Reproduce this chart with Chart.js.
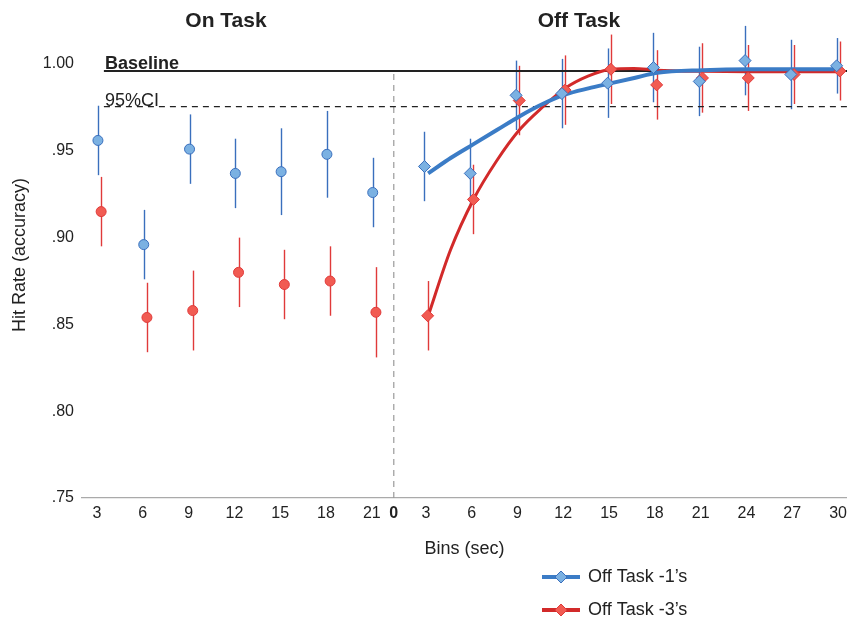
<!DOCTYPE html>
<html>
<head>
<meta charset="utf-8">
<script src="https://cdn.jsdelivr.net/npm/chart.js@4.4.1/dist/chart.umd.min.js"></script>
<style>
  html, body { margin: 0; padding: 0; background: #fff; }
  #wrap { width: 847px; height: 621px; }
</style>
</head>
<body>
<div id="wrap"><canvas id="chart" width="847" height="621"></canvas></div>
<script>
"use strict";

// ── data ─────────────────────────────────────────────────────────
const ON_BINS      = [3, 6, 9, 12, 15, 18, 21];
const ON_BLUE      = [0.956, 0.896, 0.951, 0.937, 0.938, 0.948, 0.926];
const ON_BLUE_ERR  = [0.020, 0.020, 0.020, 0.020, 0.025, 0.025, 0.020];
const ON_RED       = [0.915, 0.854, 0.858, 0.880, 0.873, 0.875, 0.857];
const ON_RED_ERR   = [0.020, 0.020, 0.023, 0.020, 0.020, 0.020, 0.026];

const OFF_BINS     = [3, 6, 9, 12, 15, 18, 21, 24, 27, 30];
const OFF_BLUE     = [0.941, 0.937, 0.982, 0.983, 0.989, 0.998, 0.990, 1.002, 0.994, 0.999];
const OFF_BLUE_ERR = [0.020, 0.020, 0.020, 0.020, 0.020, 0.020, 0.020, 0.020, 0.020, 0.016];
const OFF_RED      = [0.855, 0.922, 0.979, 0.985, 0.997, 0.988, 0.992, 0.992, 0.994, 0.996];
const OFF_RED_ERR  = [0.020, 0.020, 0.020, 0.020, 0.020, 0.020, 0.020, 0.019, 0.017, 0.017];

// fitted curves
const FIT_BINS = [3, 4.5, 6, 7.5, 9, 10.5, 12, 13.5, 15, 16.5, 18, 21, 24, 27, 30];
const FIT_BLUE = [0.937, 0.946, 0.954, 0.962, 0.970, 0.977, 0.9825, 0.986, 0.989, 0.992, 0.995, 0.9965, 0.997, 0.997, 0.997];
const FIT_RED  = [0.854, 0.893, 0.922, 0.944, 0.962, 0.975, 0.986, 0.993, 0.997, 0.9975, 0.9965, 0.9958, 0.9956, 0.9956, 0.9956];

const BASELINE = 0.996;
const CI95     = 0.9755;
const Y_TICKS  = [0.75, 0.80, 0.85, 0.90, 0.95, 1.00];
const LEGEND   = ["Off Task -1\u2019s", "Off Task -3\u2019s"];

// ── layout of the broken x axis (position units = one 3 s bin) ──
const OFF_START = 7.18;
const DIV_POS   = 7.48;
const onPos  = b => b / 3;
const offPos = b => OFF_START + b / 3;

const C = {
  blueLine: "#3b7cc6", blueFill: "#7bb1e2", blueEdge: "#3a6fbd",
  redLine:  "#d22a2a", redFill:  "#f15b52", redEdge:  "#e03a3a",
  text: "#222", axis: "#aaaaaa", div: "#9a9a9a",
};
const FONT = "'Liberation Sans', Arial, Helvetica, sans-serif";

const pts = (bins, vals, pos, shift) => bins.map((b, i) => ({ x: pos(b) + shift, y: vals[i] }));

const tickList = [
  ...ON_BINS.map(b => ({ value: onPos(b), label: String(b) })),
  { value: DIV_POS, label: "0" },
  ...OFF_BINS.map(b => ({ value: offPos(b), label: String(b) })),
];

// keep the chart area where the figure has it (no label-driven padding)
function fixScale(size, key) {
  return s => {
    s[key] = size;
    s.paddingTop = s.paddingBottom = s.paddingLeft = s.paddingRight = 0;
  };
}

// error bars under the markers
const errorBars = {
  id: "errorBars",
  beforeDatasetsDraw(chart) {
    const { ctx, scales: { x, y } } = chart;
    ctx.save();
    chart.data.datasets.forEach(ds => {
      if (!ds.errors) return;
      ctx.strokeStyle = ds.errColor;
      ctx.lineWidth = 1.4;
      ds.data.forEach((p, i) => {
        const px = Math.round(x.getPixelForValue(p.x)) + 0.5;
        ctx.beginPath();
        ctx.moveTo(px, y.getPixelForValue(p.y + ds.errors[i]));
        ctx.lineTo(px, y.getPixelForValue(p.y - ds.errors[i]));
        ctx.stroke();
      });
    });
    ctx.restore();
  },
};

// headings, reference-line labels and legend
const annotations = {
  id: "annotations",
  afterDraw(chart) {
    const { ctx, scales: { y } } = chart;
    ctx.save();
    ctx.fillStyle = C.text;
    ctx.textAlign = "center";
    ctx.textBaseline = "middle";
    ctx.font = "bold 21px " + FONT;
    ctx.fillText("On Task", 226, 21);
    ctx.fillText("Off Task", 579, 21);

    ctx.textAlign = "left";
    ctx.textBaseline = "alphabetic";
    ctx.font = "bold 18px " + FONT;
    ctx.fillText("Baseline", 105, y.getPixelForValue(BASELINE) - 2);
    ctx.font = "18px " + FONT;
    ctx.fillText("95%CI", 105, y.getPixelForValue(CI95) - 1);

    [[C.blueLine, C.blueFill, C.blueEdge], [C.redLine, C.redFill, C.redEdge]].forEach((c, i) => {
      const ly = 577 + i * 33;
      ctx.strokeStyle = c[0];
      ctx.lineWidth = 4;
      ctx.beginPath(); ctx.moveTo(542, ly); ctx.lineTo(580, ly); ctx.stroke();
      ctx.fillStyle = c[1]; ctx.strokeStyle = c[2]; ctx.lineWidth = 1;
      ctx.beginPath();
      ctx.moveTo(561, ly - 6); ctx.lineTo(567, ly); ctx.lineTo(561, ly + 6); ctx.lineTo(555, ly);
      ctx.closePath(); ctx.fill(); ctx.stroke();
      ctx.fillStyle = C.text;
      ctx.font = "18px " + FONT;
      ctx.textBaseline = "middle";
      ctx.fillText(LEGEND[i], 588, ly);
    });
    ctx.restore();
  },
};

const markerSet = (data, fill, edge, style, r, errs) => ({
  data, errors: errs, errColor: edge,
  showLine: false, pointStyle: style, pointRadius: r, pointHoverRadius: r,
  pointBackgroundColor: fill, pointBorderColor: edge, pointBorderWidth: 1,
});
const lineSet = (data, color, width, extra) => Object.assign({
  data, showLine: true, borderColor: color, borderWidth: width, pointRadius: 0,
  pointHoverRadius: 0, fill: false,
}, extra || {});

new Chart(document.getElementById("chart"), {
  type: "scatter",
  data: {
    datasets: [
      markerSet(pts(OFF_BINS, OFF_BLUE, offPos, -0.03), C.blueFill, C.blueEdge, "rectRot", 6, OFF_BLUE_ERR),
      markerSet(pts(OFF_BINS, OFF_RED, offPos, 0.04), C.redFill, C.redEdge, "rectRot", 6, OFF_RED_ERR),
      markerSet(pts(ON_BINS, ON_BLUE, onPos, 0.02), C.blueFill, C.blueEdge, "circle", 5, ON_BLUE_ERR),
      markerSet(pts(ON_BINS, ON_RED, onPos, 0.09), C.redFill, C.redEdge, "circle", 5, ON_RED_ERR),
      lineSet(pts(FIT_BINS, FIT_BLUE, offPos, 0.05), C.blueLine, 4, { cubicInterpolationMode: "monotone" }),
      lineSet(pts(FIT_BINS, FIT_RED, offPos, 0.04), C.redLine, 3, { cubicInterpolationMode: "monotone" }),
      lineSet([{ x: 1.15, y: BASELINE }, { x: 17.4, y: BASELINE }], "#222", 2),
      lineSet([{ x: 1.15, y: CI95 }, { x: 17.4, y: CI95 }], "#222", 1.2, { borderDash: [6, 5] }),
      lineSet([{ x: DIV_POS, y: 0.75 }, { x: DIV_POS, y: 0.995 }], C.div, 1.2, { borderDash: [6, 5] }),
    ],
  },
  options: {
    responsive: false,
    animation: false,
    events: [],
    layout: { autoPadding: false, padding: { top: 12, bottom: 53, left: 0, right: 0 } },
    plugins: { legend: { display: false }, tooltip: { enabled: false } },
    scales: {
      x: {
        type: "linear", min: 0.672, max: 17.376,
        grid: { display: false, drawTicks: false },
        border: { display: true, color: C.axis, width: 1.3 },
        afterBuildTicks: s => { s.ticks = tickList.map(t => ({ value: t.value })); },
        afterFit: fixScale(70, "height"),
        ticks: {
          padding: 6, color: C.text, maxRotation: 0, autoSkip: false,
          font: c => (c.tick && c.tick.value === DIV_POS)
            ? { family: FONT, size: 16, weight: "bold" } : { family: FONT, size: 16 },
          callback: v => { const t = tickList.find(t => Math.abs(t.value - v) < 1e-6); return t ? t.label : ""; },
        },
        title: { display: true, text: "Bins (sec)", color: C.text, font: { family: FONT, size: 18 }, padding: { top: 4, bottom: 8 } },
      },
      y: {
        min: 0.75, max: 1.03,
        grid: { display: false, drawTicks: false },
        border: { display: false },
        afterBuildTicks: s => { s.ticks = Y_TICKS.map(v => ({ value: v })); },
        afterFit: fixScale(82, "width"),
        ticks: {
          padding: 8, color: C.text, font: { family: FONT, size: 16 },
          callback: v => v >= 1 ? v.toFixed(2) : v.toFixed(2).replace(/^0/, ""),
        },
        title: { display: true, text: "Hit Rate (accuracy)", color: C.text, font: { family: FONT, size: 18 }, padding: { top: 9, bottom: 0 } },
      },
    },
  },
  plugins: [errorBars, annotations],
});
</script>
</body>
</html>
